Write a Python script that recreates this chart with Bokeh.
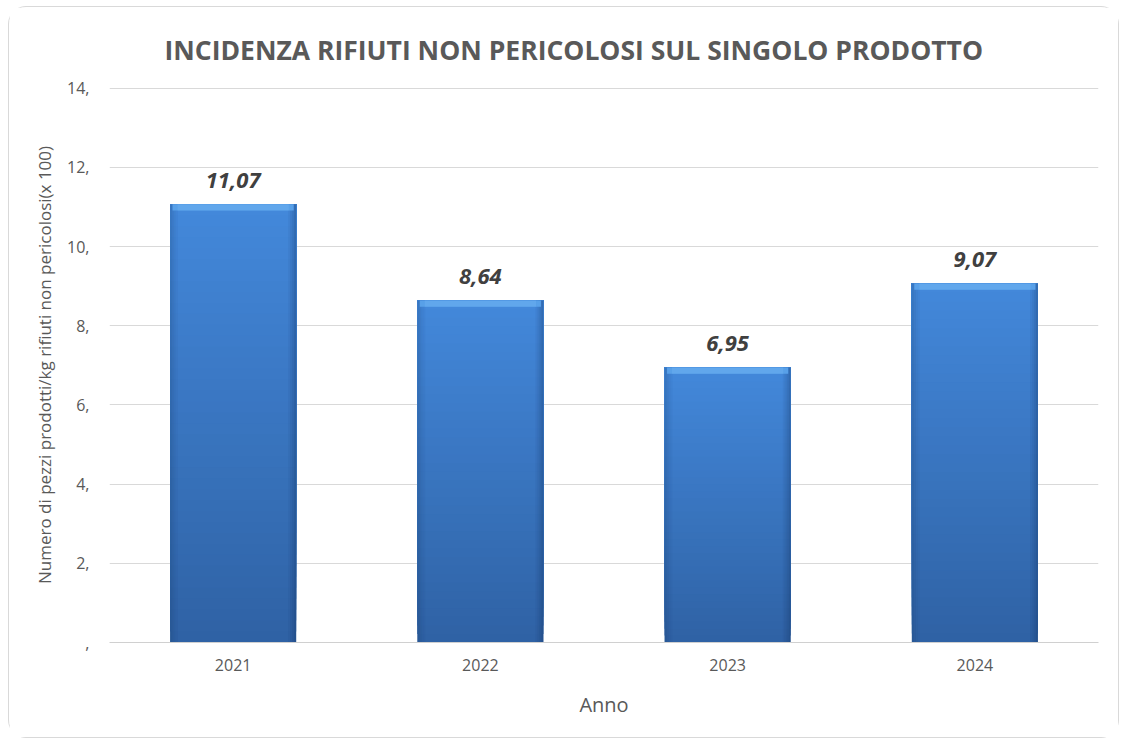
from bokeh.plotting import figure
from bokeh.models import FactorRange, Range1d, FixedTicker, Title, ColumnDataSource
from bokeh.transform import dodge
from bokeh.core.properties import value
from bokeh.embed import file_html
from bokeh.resources import INLINE

# ---- data ----
years = ["2021", "2022", "2023", "2024"]
values = [11.07, 8.64, 6.95, 9.07]
labels = ["11,07", "8,64", "6,95", "9,07"]
y_ticks = [0, 2, 4, 6, 8, 10, 12, 14]
y_tick_labels = [",", "2,", "4,", "6,", "8,", "10,", "12,", "14,"]

title_text = "INCIDENZA RIFIUTI NON PERICOLOSI SUL SINGOLO PRODOTTO"
y_label = "Numero di pezzi prodotti/kg rifiuti non pericolosi(x 100)"
x_label = "Anno"

TEXT = "#595959"
FONT = "Open Sans"
BAR_W = 0.51

p = figure(width=1111, height=732, x_range=FactorRange(*years, range_padding=0),
           y_range=Range1d(0, 14.02), output_backend="svg", toolbar_location=None,
           min_border_left=100, min_border_right=22, min_border_top=80, min_border_bottom=97)
p.margin = (6, 0, 0, 8)
p.styles = {"border": "1px solid #d9d9d9", "border-radius": "18px", "box-sizing": "border-box"}
p.outline_line_color = None
p.background_fill_color = "white"
p.border_fill_color = "white"

# ---- title ----
p.title = Title(text=title_text, align="left", offset=55, standoff=40,
                text_font=FONT, text_font_style="bold", text_font_size="26.5px",
                text_color=TEXT)

# ---- gradient bars (vertical gradient, per bar) ----
def lerp(c1, c2, t):
    a = [int(c1[i:i + 2], 16) for i in (1, 3, 5)]
    b = [int(c2[i:i + 2], 16) for i in (1, 3, 5)]
    return "#%02x%02x%02x" % tuple(round(a[k] + (b[k] - a[k]) * t) for k in range(3))

N = 40
bottom_col, top_col = "#2f62a5", "#4388da"
xs, bots, tops, cols = [], [], [], []
for i in range(N):
    for yr, v in zip(years, values):
        xs.append(yr)
        bots.append(v * i / N)
        tops.append(v)
        cols.append(lerp(bottom_col, top_col, i / (N - 1)))
p.vbar(x=xs, bottom=bots, top=tops, width=BAR_W, fill_color=cols, line_color=None)

# side shading (darker toward edges)
src = ColumnDataSource(dict(x=years, top=values))
strip = 0.008
for k, a in enumerate([0.30, 0.20, 0.12, 0.06]):
    off = BAR_W / 2 - strip * (k + 0.5)
    p.vbar(x=dodge("x", off, range=p.x_range), top="top", bottom=0, width=strip,
           source=src, fill_color="#0d2a55", fill_alpha=a, line_color=None)
    p.vbar(x=dodge("x", -off, range=p.x_range), top="top", bottom=0, width=strip,
           source=src, fill_color="#0d2a55", fill_alpha=a * 0.6, line_color=None)

# top bevel
bev = ColumnDataSource(dict(x=years, top=values, bottom=[v - 0.16 for v in values]))
p.vbar(x="x", top="top", bottom="bottom", width=BAR_W - 0.02, source=bev,
       fill_color="#58a0e8", line_color=None)
p.vbar(x="x", top="top", bottom="bottom", width=BAR_W - 0.06, source=bev,
       fill_color="#6aaef0", fill_alpha=0.5, line_color=None)

# data labels
lab = ColumnDataSource(dict(x=years, y=values, t=labels))
p.text(x="x", y="y", text="t", source=lab, text_align="center", text_baseline="bottom",
       y_offset=-16, text_font=value(FONT), text_font_style="bold italic",
       text_font_size="22px", text_color="#404040")

# ---- axes ----
p.yaxis.ticker = FixedTicker(ticks=y_ticks)
p.yaxis.major_label_overrides = {t: l for t, l in zip(y_ticks, y_tick_labels)}
p.yaxis.axis_line_color = None
p.yaxis.major_tick_line_color = None
p.yaxis.minor_tick_line_color = None
p.yaxis.major_label_standoff = 14
p.yaxis.major_label_text_font = FONT
p.yaxis.major_label_text_font_size = "16px"
p.yaxis.major_label_text_color = TEXT
p.yaxis.axis_label = y_label
p.yaxis.axis_label_text_font = FONT
p.yaxis.axis_label_text_font_size = "17px"
p.yaxis.axis_label_text_font_style = "normal"
p.yaxis.axis_label_text_color = TEXT
p.yaxis.axis_label_standoff = 8

p.xaxis.axis_line_color = "#d0d0d0"
p.xaxis.major_tick_line_color = None
p.xaxis.minor_tick_line_color = None
p.xaxis.major_label_standoff = 10
p.xaxis.major_label_text_font = FONT
p.xaxis.major_label_text_font_size = "16px"
p.xaxis.major_label_text_color = TEXT
p.xaxis.axis_label = x_label
p.xaxis.axis_label_text_font = FONT
p.xaxis.axis_label_text_font_size = "20px"
p.xaxis.axis_label_text_font_style = "normal"
p.xaxis.axis_label_text_color = TEXT
p.xaxis.axis_label_standoff = 17

p.xgrid.grid_line_color = None
p.ygrid.grid_line_color = "#d9d9d9"
p.ygrid.grid_line_width = 1

open("out.html", "w").write(file_html(p, INLINE))
